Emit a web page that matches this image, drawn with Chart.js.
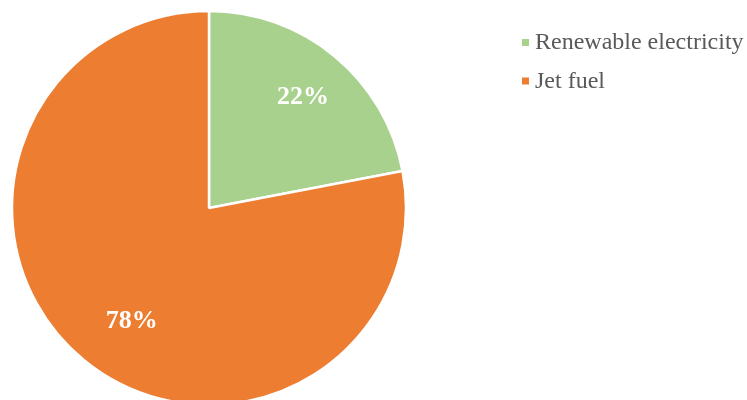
<!DOCTYPE html>
<html>
<head>
<meta charset="utf-8">
<title>Energy share</title>
<script src="https://cdn.jsdelivr.net/npm/chart.js@4/dist/chart.umd.min.js"></script>
<style>
  html, body { margin: 0; padding: 0; width: 747px; height: 400px; overflow: hidden; background: #ffffff; }
  #wrap { position: relative; width: 747px; height: 420px; }
</style>
</head>
<body>
<div id="wrap"><canvas id="pie" width="747" height="420"></canvas></div>
<script>
// Energy source shares (percent)
const categories = ['Renewable electricity', 'Jet fuel'];
const shares = [22, 78];
const sliceColors = ['#A9D18E', '#ED7D31'];

const SERIF = "'Liberation Serif', 'Times New Roman', Times, serif";

// Percentage labels drawn inside each slice
const sliceLabels = {
  id: 'sliceLabels',
  afterDatasetsDraw(chart, args, opts) {
    const ctx = chart.ctx;
    const meta = chart.getDatasetMeta(0);
    const values = chart.data.datasets[0].data;
    ctx.save();
    ctx.fillStyle = '#ffffff';
    ctx.font = 'bold 26px ' + SERIF;
    ctx.textAlign = 'center';
    ctx.textBaseline = 'middle';
    meta.data.forEach((arc, i) => {
      const p = arc.getProps(['x', 'y', 'startAngle', 'endAngle', 'outerRadius'], true);
      const mid = (p.startAngle + p.endAngle) / 2 + (opts.angleShift[i] || 0) * Math.PI / 180;
      const r = p.outerRadius * opts.radiusFraction[i];
      ctx.fillText(values[i] + '%', p.x + Math.cos(mid) * r, p.y + Math.sin(mid) * r + 1);
    });
    ctx.restore();
  }
};

// Legend in the upper right, square markers before each category
const sideLegend = {
  id: 'sideLegend',
  afterDraw(chart, args, opts) {
    const ctx = chart.ctx;
    ctx.save();
    ctx.font = '24px ' + SERIF;
    ctx.textBaseline = 'alphabetic';
    ctx.textAlign = 'left';
    chart.data.labels.forEach((label, i) => {
      const y = opts.top + i * opts.rowGap;
      ctx.fillStyle = chart.data.datasets[0].backgroundColor[i];
      ctx.fillRect(opts.left, y - 10, 7, 7);
      ctx.fillStyle = '#595959';
      ctx.fillText(label, opts.left + 13, y);
    });
    ctx.restore();
  }
};

new Chart(document.getElementById('pie'), {
  type: 'pie',
  data: {
    labels: categories,
    datasets: [{
      data: shares,
      backgroundColor: sliceColors,
      borderColor: '#ffffff',
      borderWidth: 2.5
    }]
  },
  options: {
    responsive: false,
    animation: false,
    radius: 197,
    layout: { padding: { left: 12, top: 11, right: 341, bottom: 15 } },
    plugins: {
      legend: { display: false },
      tooltip: { enabled: false },
      sliceLabels: { radiusFraction: [0.74, 0.69], angleShift: [0.5, -5] },
      sideLegend: { left: 522, top: 49, rowGap: 38.5 }
    }
  },
  plugins: [sliceLabels, sideLegend]
});
</script>
</body>
</html>
